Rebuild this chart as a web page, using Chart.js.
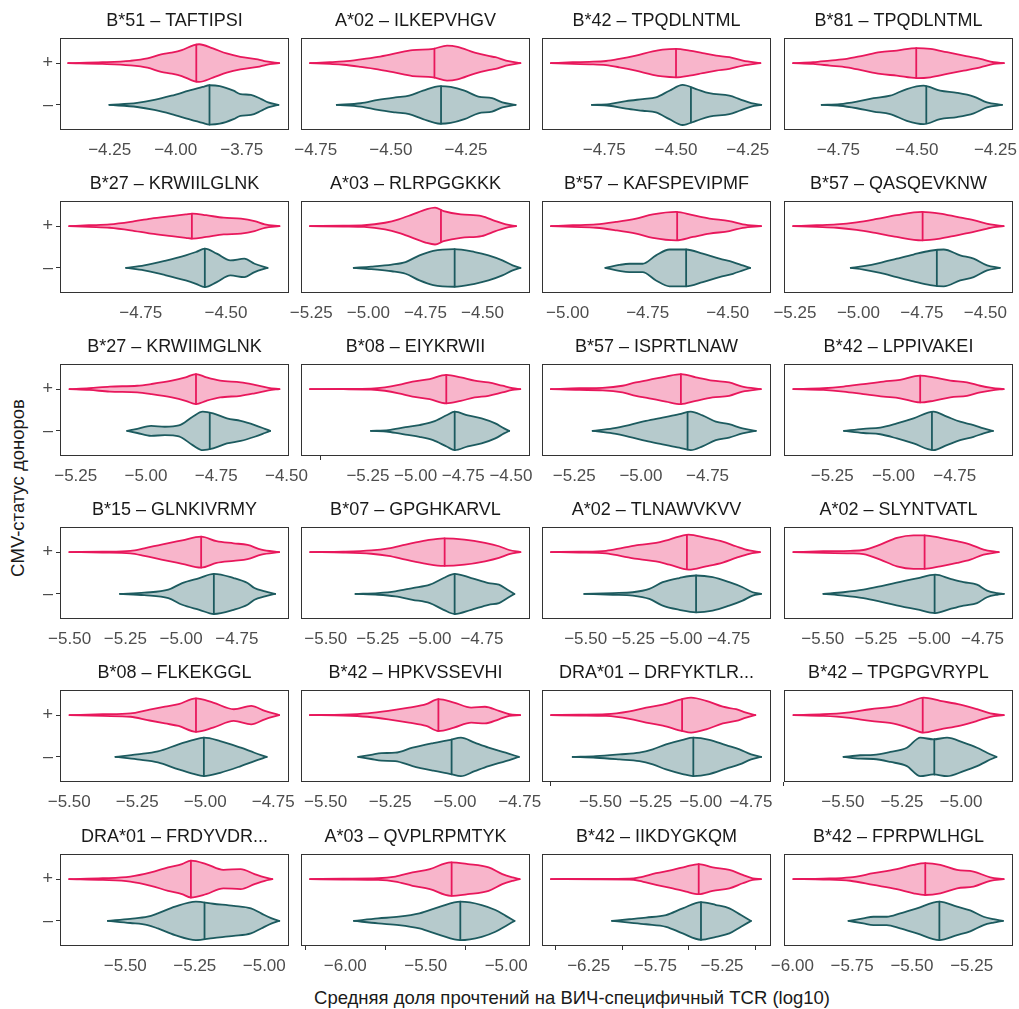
<!DOCTYPE html>
<html>
<head>
<meta charset="utf-8">
<script src="https://cdn.jsdelivr.net/npm/chart.js@4.4.0/dist/chart.umd.min.js"></script>
<style>
  body { margin: 0; background: #fff; width: 1019px; height: 1009px; position: relative; overflow: hidden;
         font-family: "Liberation Sans", Arial, sans-serif; }
  canvas { position: absolute; }
  .axis-title { position: absolute; color: #1a1a1a; font-size: 18.5px; white-space: nowrap; }
  #xTitle { left: 572px; top: 998px; transform: translate(-50%, -50%); }
  #yTitle { left: 18px; top: 488px; transform: translate(-50%, -50%) rotate(-90deg); }
</style>
</head>
<body>
<div class="axis-title" id="xTitle">Средняя доля прочтений на ВИЧ-специфичный TCR (log10)</div>
<div class="axis-title" id="yTitle">CMV-статус доноров</div>
<script>
// Заголовки панелей (аллель – эпитоп)
const titles = [
  "B*51 – TAFTIPSI", "A*02 – ILKEPVHGV", "B*42 – TPQDLNTML", "B*81 – TPQDLNTML",
  "B*27 – KRWIILGLNK", "A*03 – RLRPGGKKK", "B*57 – KAFSPEVIPMF", "B*57 – QASQEVKNW",
  "B*27 – KRWIIMGLNK", "B*08 – EIYKRWII", "B*57 – ISPRTLNAW", "B*42 – LPPIVAKEI",
  "B*15 – GLNKIVRMY", "B*07 – GPGHKARVL", "A*02 – TLNAWVKVV", "A*02 – SLYNTVATL",
  "B*08 – FLKEKGGL", "B*42 – HPKVSSEVHI", "DRA*01 – DRFYKTLR...", "B*42 – TPGPGVRYPL",
  "DRA*01 – FRDYVDR...", "A*03 – QVPLRPMTYK", "B*42 – IIKDYGKQM", "B*42 – FPRPWLHGL"
];

// Границы оси X каждой панели (log10)
const xMin = [-4.438, -4.799, -4.967, -4.923, -4.987, -5.295, -5.080, -5.293,
              -5.306, -5.601, -5.371, -5.447, -5.543, -5.619, -5.729, -5.682,
              -5.534, -5.595, -5.791, -5.749, -5.735, -6.275, -6.600, -6.035];
const xMax = [-3.571, -4.037, -4.169, -4.194, -4.315, -4.292, -4.365, -4.391,
              -4.491, -4.400, -4.512, -4.512, -4.516, -4.519, -4.528, -4.607,
              -4.692, -4.710, -4.650, -4.780, -4.911, -4.852, -4.883, -5.077];

// Подписанные деления и деления без подписи
const tickLabeled = [
  [-4.25, -4, -3.75], [-4.75, -4.5, -4.25], [-4.75, -4.5, -4.25], [-4.75, -4.5, -4.25],
  [-4.75, -4.5], [-5.25, -5, -4.75, -4.5], [-5, -4.75, -4.5], [-5.25, -5, -4.75, -4.5],
  [-5.25, -5, -4.75, -4.5], [-5.25, -5, -4.75, -4.5], [-5.25, -5, -4.75], [-5.25, -5, -4.75],
  [-5.5, -5.25, -5, -4.75], [-5.5, -5.25, -5, -4.75], [-5.5, -5.25, -5, -4.75], [-5.5, -5.25, -5, -4.75],
  [-5.5, -5.25, -5, -4.75], [-5.5, -5.25, -5, -4.75], [-5.5, -5.25, -5, -4.75], [-5.5, -5.25, -5],
  [-5.5, -5.25, -5], [-6, -5.5, -5], [-6.25, -5.75, -5.25], [-6, -5.75, -5.5, -5.25]
];
const tickBare = [
  [], [], [], [], [], [], [], [],
  [], [-5.5], [], [], [], [], [], [],
  [], [], [-5.75], [-5.75], [], [-6.25, -5.75, -5.25], [-6.5, -6, -5.5, -5], []
];

// CMV+ : положения контура скрипки и полуширина
const plusX = [
  [-4.407, -4.277, -4.172, -4.107, -4.055, -4.016, -3.977, -3.931, -3.911, -3.859, -3.807, -3.755, -3.689, -3.657, -3.608],
  [-4.769, -4.703, -4.657, -4.600, -4.543, -4.485, -4.428, -4.359, -4.313, -4.278, -4.221, -4.175, -4.152, -4.117, -4.069],
  [-4.936, -4.860, -4.802, -4.744, -4.698, -4.640, -4.581, -4.547, -4.500, -4.453, -4.407, -4.360, -4.314, -4.267, -4.206],
  [-4.894, -4.830, -4.777, -4.723, -4.670, -4.617, -4.564, -4.500, -4.457, -4.404, -4.351, -4.298, -4.255, -4.223],
  [-4.960, -4.902, -4.841, -4.780, -4.720, -4.659, -4.618, -4.598, -4.558, -4.507, -4.456, -4.416, -4.386, -4.343],
  [-5.256, -5.109, -5.018, -4.927, -4.867, -4.806, -4.746, -4.708, -4.670, -4.595, -4.504, -4.443, -4.398, -4.353],
  [-5.052, -4.984, -4.911, -4.849, -4.786, -4.734, -4.661, -4.609, -4.557, -4.495, -4.453, -4.396],
  [-5.257, -5.164, -5.086, -5.007, -4.928, -4.849, -4.750, -4.678, -4.612, -4.546, -4.480, -4.428],
  [-5.272, -5.202, -5.129, -5.031, -4.982, -4.908, -4.859, -4.822, -4.785, -4.736, -4.663, -4.613, -4.564, -4.525],
  [-5.554, -5.379, -5.234, -5.161, -5.089, -5.016, -4.926, -4.839, -4.763, -4.690, -4.618, -4.545, -4.491, -4.451],
  [-5.338, -5.231, -5.144, -5.069, -5.019, -4.969, -4.906, -4.850, -4.794, -4.731, -4.669, -4.619, -4.550],
  [-5.409, -5.286, -5.204, -5.123, -5.041, -4.973, -4.891, -4.837, -4.768, -4.700, -4.646, -4.598, -4.550],
  [-5.501, -5.351, -5.227, -5.165, -5.088, -4.995, -4.910, -4.841, -4.764, -4.702, -4.640, -4.560],
  [-5.575, -5.415, -5.282, -5.199, -5.116, -5.017, -4.934, -4.834, -4.735, -4.668, -4.619, -4.565],
  [-5.682, -5.533, -5.393, -5.306, -5.219, -5.131, -5.061, -4.960, -4.869, -4.781, -4.712, -4.642, -4.586],
  [-5.638, -5.497, -5.371, -5.309, -5.230, -5.152, -5.074, -5.022, -4.948, -4.870, -4.807, -4.745, -4.674],
  [-5.499, -5.376, -5.275, -5.212, -5.148, -5.098, -5.034, -4.971, -4.895, -4.831, -4.781, -4.728],
  [-5.561, -5.431, -5.338, -5.258, -5.178, -5.111, -5.064, -5.004, -4.937, -4.884, -4.830, -4.790, -4.748],
  [-5.746, -5.605, -5.472, -5.355, -5.272, -5.189, -5.093, -5.048, -4.973, -4.890, -4.824, -4.774, -4.728],
  [-5.709, -5.582, -5.483, -5.384, -5.271, -5.215, -5.158, -5.088, -5.003, -4.932, -4.876, -4.819],
  [-5.702, -5.581, -5.482, -5.408, -5.346, -5.296, -5.264, -5.209, -5.147, -5.085, -5.035, -4.998, -4.971],
  [-6.219, -6.011, -5.796, -5.689, -5.582, -5.474, -5.345, -5.238, -5.109, -5.024, -4.959, -4.916],
  [-6.533, -6.195, -5.945, -5.870, -5.745, -5.620, -5.520, -5.425, -5.320, -5.195, -5.095, -5.020, -4.958],
  [-5.996, -5.870, -5.758, -5.661, -5.563, -5.493, -5.444, -5.381, -5.311, -5.242, -5.172, -5.116]
];
const plusW = [
  [0, .02, .055, .11, .21, .25, .31, .43, .45, .35, .23, .15, .09, .04, 0],
  [0, .02, .04, .09, .15, .23, .31, .34, .42, .39, .25, .17, .14, .06, 0],
  [0, .02, .03, .05, .10, .18, .28, .32, .34, .30, .24, .18, .14, .06, 0],
  [0, .02, .06, .10, .18, .26, .30, .36, .34, .26, .18, .10, .02, 0],
  [0, .02, .04, .10, .18, .24, .28, .30, .26, .20, .18, .12, .04, 0],
  [0, .01, .02, .08, .16, .28, .40, .44, .36, .28, .24, .12, .04, 0],
  [0, .02, .04, .10, .18, .28, .34, .26, .18, .12, .04, 0],
  [0, .02, .04, .09, .17, .26, .34, .30, .22, .14, .04, 0],
  [0, .02, .06, .08, .12, .20, .28, .36, .28, .20, .16, .10, .03, 0],
  [0, .003, .01, .04, .10, .18, .24, .34, .28, .20, .16, .08, .02, 0],
  [0, .02, .03, .08, .16, .22, .30, .36, .28, .20, .16, .06, 0],
  [0, .02, .06, .12, .18, .22, .32, .28, .20, .16, .08, .03, 0],
  [0, .01, .03, .09, .18, .28, .37, .26, .21, .17, .06, 0],
  [0, .01, .04, .09, .18, .28, .33, .30, .22, .14, .05, 0],
  [0, .01, .03, .10, .17, .22, .30, .42, .34, .25, .14, .04, 0],
  [0, .02, .03, .05, .18, .34, .40, .40, .34, .26, .18, .06, 0],
  [0, .02, .04, .12, .20, .26, .40, .30, .14, .22, .10, 0],
  [0, .01, .04, .10, .18, .26, .38, .30, .18, .20, .10, .02, 0],
  [0, .01, .02, .09, .18, .25, .38, .42, .34, .20, .14, .06, 0],
  [0, .02, .06, .14, .22, .32, .42, .34, .25, .14, .04, 0],
  [0, .02, .06, .16, .28, .36, .44, .36, .22, .24, .12, .04, 0],
  [0, .01, .02, .06, .16, .24, .40, .36, .28, .12, .04, 0],
  [0, .005, .01, .04, .14, .22, .30, .36, .28, .22, .10, .02, 0],
  [0, .01, .04, .14, .24, .34, .38, .34, .22, .18, .04, 0]
];
const plusMed = [-3.922, -4.355, -4.500, -4.502, -4.600, -4.682, -4.658, -4.747,
                 -4.822, -4.839, -4.850, -4.891, -4.910, -4.929, -4.969, -5.022,
                 -5.034, -5.064, -5.093, -5.162, -5.264, -5.339, -5.425, -5.444];

// CMV− : положения контура скрипки и полуширина
const minusX = [
  [-4.251, -4.146, -4.081, -4.016, -3.950, -3.898, -3.872, -3.833, -3.781, -3.755, -3.715, -3.676, -3.650, -3.611],
  [-4.680, -4.600, -4.543, -4.485, -4.439, -4.393, -4.336, -4.301, -4.255, -4.209, -4.163, -4.129, -4.085],
  [-4.793, -4.733, -4.674, -4.616, -4.570, -4.523, -4.477, -4.430, -4.384, -4.314, -4.279, -4.238, -4.203],
  [-4.803, -4.745, -4.691, -4.638, -4.585, -4.532, -4.479, -4.426, -4.372, -4.319, -4.277, -4.229],
  [-4.793, -4.740, -4.679, -4.618, -4.588, -4.562, -4.527, -4.487, -4.446, -4.416, -4.378],
  [-5.064, -4.988, -4.897, -4.837, -4.776, -4.716, -4.625, -4.534, -4.474, -4.413, -4.368, -4.334],
  [-4.882, -4.839, -4.807, -4.766, -4.724, -4.682, -4.630, -4.578, -4.526, -4.484, -4.453, -4.430],
  [-5.030, -4.980, -4.914, -4.849, -4.783, -4.717, -4.664, -4.599, -4.546, -4.493, -4.443],
  [-5.067, -5.031, -4.982, -4.933, -4.883, -4.834, -4.798, -4.761, -4.712, -4.663, -4.613, -4.577, -4.558],
  [-5.234, -5.143, -5.053, -4.980, -4.908, -4.835, -4.795, -4.726, -4.654, -4.582, -4.536, -4.509],
  [-5.181, -5.106, -5.044, -4.981, -4.919, -4.856, -4.813, -4.769, -4.719, -4.669, -4.619, -4.569],
  [-5.202, -5.123, -5.054, -4.986, -4.918, -4.837, -4.782, -4.728, -4.673, -4.632, -4.594],
  [-5.274, -5.165, -5.057, -4.995, -4.918, -4.853, -4.764, -4.702, -4.671, -4.624, -4.578],
  [-5.357, -5.249, -5.166, -5.083, -5.000, -4.934, -4.881, -4.801, -4.718, -4.668, -4.627, -4.594],
  [-5.507, -5.358, -5.253, -5.166, -5.096, -5.009, -4.921, -4.834, -4.747, -4.677, -4.624, -4.580],
  [-5.497, -5.403, -5.309, -5.215, -5.136, -5.058, -4.972, -4.901, -4.839, -4.776, -4.729, -4.682, -4.650],
  [-5.330, -5.250, -5.174, -5.098, -5.047, -5.005, -4.945, -4.869, -4.819, -4.774],
  [-5.374, -5.324, -5.284, -5.231, -5.164, -5.084, -5.017, -4.977, -4.924, -4.870, -4.804, -4.753],
  [-5.638, -5.522, -5.405, -5.306, -5.239, -5.173, -5.090, -5.037, -4.957, -4.874, -4.807, -4.749, -4.699],
  [-5.497, -5.427, -5.370, -5.299, -5.229, -5.172, -5.116, -5.059, -4.989, -4.932, -4.890, -4.850],
  [-5.563, -5.482, -5.420, -5.383, -5.321, -5.246, -5.184, -5.110, -5.048, -5.011, -4.973, -4.946],
  [-5.946, -5.796, -5.667, -5.539, -5.410, -5.285, -5.152, -5.067, -5.002, -4.948],
  [-6.075, -5.945, -5.820, -5.670, -5.545, -5.408, -5.295, -5.195, -5.108, -5.033],
  [-5.765, -5.703, -5.661, -5.605, -5.549, -5.479, -5.385, -5.311, -5.256, -5.200, -5.158, -5.119]
];
const minusW = [
  [0, .05, .12, .22, .34, .43, .47, .45, .34, .26, .24, .14, .06, 0],
  [0, .04, .12, .18, .22, .34, .45, .43, .34, .20, .16, .06, 0],
  [0, .02, .09, .14, .18, .34, .48, .38, .28, .22, .14, .04, 0],
  [0, .02, .08, .16, .22, .38, .46, .34, .29, .20, .06, 0],
  [0, .06, .17, .30, .38, .46, .34, .18, .22, .10, 0],
  [0, .03, .08, .14, .30, .41, .45, .38, .30, .18, .06, 0],
  [0, .07, .10, .10, .30, .44, .44, .34, .22, .14, .06, 0],
  [0, .04, .12, .22, .32, .41, .44, .30, .22, .06, 0],
  [0, .05, .12, .10, .13, .34, .46, .42, .30, .24, .14, .05, 0],
  [0, .02, .09, .14, .22, .38, .46, .37, .30, .18, .06, 0],
  [0, .06, .14, .24, .32, .40, .46, .37, .22, .16, .06, 0],
  [0, .05, .08, .18, .30, .46, .34, .22, .14, .06, 0],
  [0, .03, .10, .26, .38, .48, .38, .26, .14, .06, 0],
  [0, .02, .06, .14, .22, .38, .48, .38, .26, .22, .10, 0],
  [0, .02, .04, .12, .28, .38, .44, .40, .28, .16, .04, 0],
  [0, .04, .10, .20, .29, .37, .46, .36, .28, .22, .08, .02, 0],
  [0, .06, .13, .30, .40, .46, .38, .22, .10, 0],
  [0, .05, .09, .10, .22, .33, .41, .46, .34, .22, .10, 0],
  [0, .02, .06, .10, .18, .30, .41, .46, .41, .28, .18, .06, 0],
  [0, .04, .05, .12, .22, .46, .42, .46, .34, .22, .10, 0],
  [0, .05, .10, .18, .34, .46, .41, .36, .30, .18, .06, 0],
  [0, .06, .10, .18, .34, .46, .38, .26, .12, 0],
  [0, .04, .08, .14, .30, .45, .38, .30, .14, 0],
  [0, .06, .10, .10, .18, .30, .46, .34, .25, .10, .04, 0]
];
const minusMed = [-3.872, -4.333, -4.448, -4.470, -4.562, -4.622, -4.630, -4.691,
                  -4.773, -4.795, -4.825, -4.843, -4.853, -4.881, -4.921, -4.975,
                  -5.005, -5.013, -5.037, -5.113, -5.215, -5.285, -5.408, -5.385];

// Оформление
const PINK = "#e8185c", PINK_FILL = "rgba(232, 24, 92, 0.32)";
const TEAL = "#1d5b5f", TEAL_FILL = "rgba(29, 91, 95, 0.32)";
const boxLeft = [60, 301, 542, 784];
const boxTop = [38, 201, 364, 527, 690, 854];
const BOX_W = 229, BOX_H = 92, PAD = 30, X_AXIS_H = 34;

Chart.defaults.font.family = '"Liberation Sans", Arial, sans-serif';
Chart.defaults.animation = false;

function fmt(v) {
  return "\u2212" + Math.abs(v).toFixed(2);
}

function halfAt(xs, ws, m) {
  for (let i = 1; i < xs.length; i++) {
    if (m <= xs[i]) {
      const t = (m - xs[i - 1]) / (xs[i] - xs[i - 1]);
      return ws[i - 1] + t * (ws[i] - ws[i - 1]);
    }
  }
  return 0;
}

function violin(xs, ws, med, c, line, fill) {
  const upper = xs.map((x, i) => ({ x: x, y: c + ws[i] }));
  const lower = xs.map((x, i) => ({ x: x, y: c - ws[i] }));
  const h = halfAt(xs, ws, med);
  return [
    { data: upper, borderColor: line, backgroundColor: fill, fill: "+1", cubicInterpolationMode: "monotone" },
    { data: lower, borderColor: line, fill: false, cubicInterpolationMode: "monotone" },
    { data: [{ x: med, y: c - h }, { x: med, y: c + h }], borderColor: line, fill: false, tension: 0 }
  ];
}

// рамка панели и её заголовок
const panelFrame = {
  id: "panelFrame",
  afterDraw(chart, args, opts) {
    const a = chart.chartArea, ctx = chart.ctx;
    ctx.save();
    ctx.strokeStyle = "#333333";
    ctx.lineWidth = 1;
    ctx.strokeRect(a.left + 0.5, a.top + 0.5, a.right - a.left - 1, a.bottom - a.top - 1);
    ctx.fillStyle = "#1a1a1a";
    ctx.font = '18px "Liberation Sans", Arial, sans-serif';
    ctx.textAlign = "center";
    ctx.textBaseline = "middle";
    ctx.fillText(opts.text, (a.left + a.right) / 2, a.top - 17);
    ctx.restore();
  }
};

titles.forEach(function (title, i) {
  const row = Math.floor(i / 4), col = i % 4;
  const canvas = document.createElement("canvas");
  canvas.width = PAD + BOX_W + PAD;
  canvas.height = PAD + BOX_H + X_AXIS_H;
  canvas.style.left = (boxLeft[col] - PAD) + "px";
  canvas.style.top = (boxTop[row] - PAD) + "px";
  document.body.appendChild(canvas);

  const allTicks = tickLabeled[i].concat(tickBare[i]).sort((a, b) => a - b);
  const isLabeled = v => tickLabeled[i].some(t => Math.abs(t - v) < 1e-9);

  new Chart(canvas.getContext("2d"), {
    type: "line",
    data: {
      datasets: violin(plusX[i], plusW[i], plusMed[i], 2, PINK, PINK_FILL)
        .concat(violin(minusX[i], minusW[i], minusMed[i], 1, TEAL, TEAL_FILL))
    },
    options: {
      responsive: false,
      events: [],
      layout: { padding: { left: col === 0 ? 0 : PAD, right: PAD, top: PAD, bottom: 0 } },
      elements: {
        point: { radius: 0 },
        line: { borderWidth: 1.8, borderJoinStyle: "round", borderCapStyle: "round" }
      },
      plugins: {
        legend: { display: false },
        tooltip: { enabled: false },
        panelFrame: { text: title }
      },
      scales: {
        x: {
          type: "linear",
          min: xMin[i],
          max: xMax[i],
          afterBuildTicks: s => { s.ticks = allTicks.map(v => ({ value: v })); },
          afterFit: s => { s.height = X_AXIS_H; },
          ticks: {
            autoSkip: false,
            maxRotation: 0,
            padding: 6,
            color: "#4d4d4d",
            font: { size: 17 },
            callback: v => isLabeled(v) ? fmt(v) : ""
          },
          grid: {
            drawOnChartArea: false,
            tickLength: 4,
            tickColor: ctx => (ctx.tick && ctx.tick.label === "") ? "#333333" : "rgba(0,0,0,0)"
          },
          border: { display: false }
        },
        y: {
          type: "linear",
          display: col === 0,
          min: 0.4,
          max: 2.6,
          afterBuildTicks: s => { s.ticks = [{ value: 1 }, { value: 2 }]; },
          afterFit: s => { if (col === 0) s.width = PAD; },
          ticks: {
            padding: 3,
            color: "#4d4d4d",
            font: { size: 18 },
            callback: v => v === 2 ? "+" : "\u2013"
          },
          grid: { drawOnChartArea: false, tickLength: 4, tickColor: "#333333" },
          border: { display: false }
        }
      }
    },
    plugins: [panelFrame]
  });
});
</script>
</body>
</html>
